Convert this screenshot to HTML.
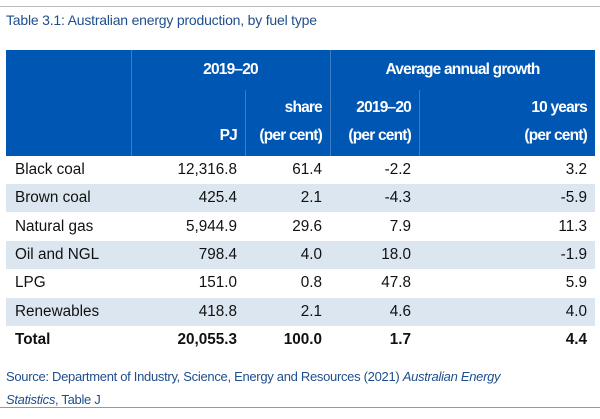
<!DOCTYPE html>
<html><head><style>
body{margin:0;width:600px;height:419px;background:#fff;font-family:"Liberation Sans",Arial,sans-serif;position:relative;overflow:hidden}
.a{position:absolute}
.hl{position:absolute;background:#3a7cc6;width:1px}
.t{position:absolute;font-size:15.3px;color:#111}
.r{text-align:right}
.h{position:absolute;color:#fff;font-weight:bold;font-size:15.5px;letter-spacing:-0.8px}
</style></head><body>
<div class="a" style="left:0;top:6px;width:600px;height:1px;background:#bbb"></div>
<div class="a" style="left:6px;top:12px;font-size:14px;letter-spacing:-0.2px;color:#1f4e8c">Table 3.1: Australian energy production, by fuel type</div>
<div class="a" style="left:6px;top:50px;width:589px;height:106px;background:#0057b3"></div>
<div class="hl" style="left:131px;top:50px;height:106px"></div>
<div class="hl" style="left:330px;top:50px;height:106px"></div>
<div class="hl" style="left:245px;top:90px;height:66px"></div>
<div class="hl" style="left:419px;top:90px;height:66px"></div>
<div class="h" style="left:131px;width:199px;top:61px;text-align:center">2019–20</div>
<div class="h" style="left:330px;width:265px;top:61px;text-align:center">Average annual growth</div>
<div class="h r" style="left:245px;width:77px;top:99px">share</div>
<div class="h r" style="left:330px;width:81px;top:99px">2019–20</div>
<div class="h r" style="left:419px;width:168px;top:99px">10 years</div>
<div class="h r" style="left:131px;width:106px;top:127px">PJ</div>
<div class="h r" style="left:245px;width:77px;top:127px">(per cent)</div>
<div class="h r" style="left:330px;width:81px;top:127px">(per cent)</div>
<div class="h r" style="left:419px;width:168px;top:127px">(per cent)</div>
<div id="rows"></div>
<div class="a" style="left:6px;top:365px;font-size:13px;letter-spacing:-0.3px;color:#1f4e8c;line-height:23px">Source: Department of Industry, Science, Energy and Resources (2021) <i>Australian Energy<br>Statistics</i>, Table J</div>
<div class="a" style="left:0;top:407px;width:600px;height:1px;background:#999"></div>
<script>
var d=[["Black coal","12,316.8","61.4","-2.2","3.2"],["Brown coal","425.4","2.1","-4.3","-5.9"],["Natural gas","5,944.9","29.6","7.9","11.3"],["Oil and NGL","798.4","4.0","18.0","-1.9"],["LPG","151.0","0.8","47.8","5.9"],["Renewables","418.8","2.1","4.6","4.0"],["Total","20,055.3","100.0","1.7","4.4"]];
var h="",R=[[131,106],[245,77],[330,81],[419,168]];
d.forEach(function(r,i){var y=156+i*28.3;
if(i%2==1)h+='<div class="a" style="left:6px;top:'+y+'px;width:589px;height:28px;background:#dce6f1"></div>';
var b=i==6?'font-weight:bold;':'';
h+='<div class="t" style="'+b+'left:15px;top:'+(y+5)+'px">'+r[0]+'</div>';
for(var j=0;j<4;j++)h+='<div class="t r" style="'+b+'left:'+R[j][0]+'px;width:'+R[j][1]+'px;top:'+(y+5)+'px">'+r[j+1]+'</div>';});
document.getElementById("rows").innerHTML=h;
</script>
</body></html>
